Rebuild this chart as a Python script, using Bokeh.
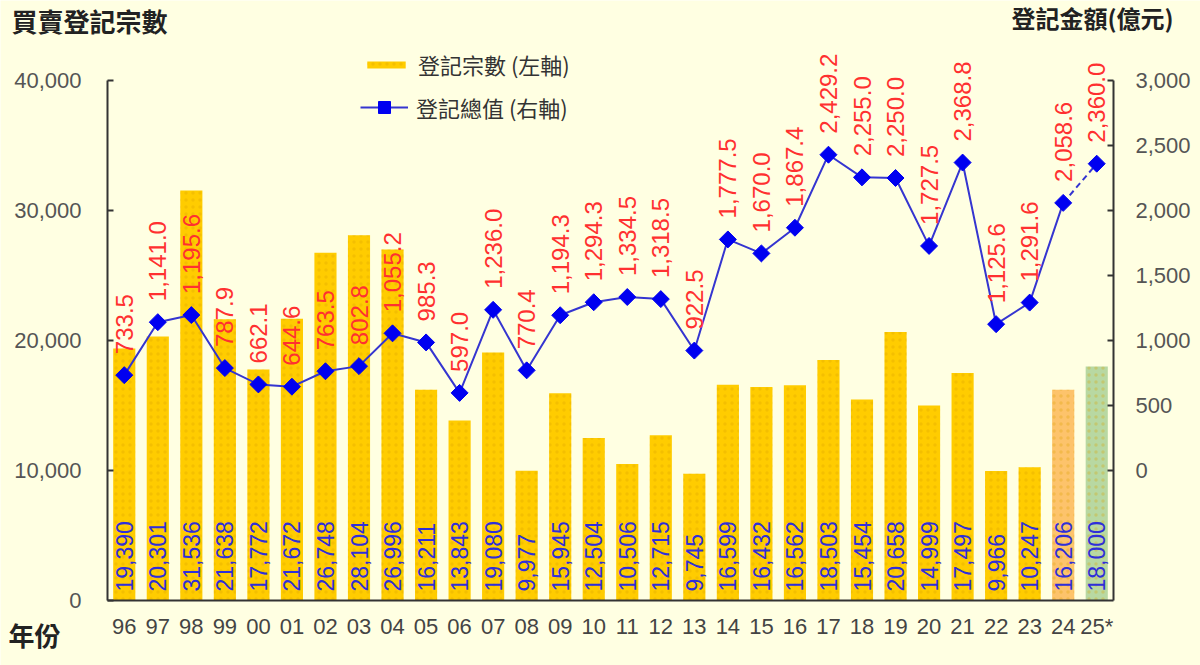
import math

from bokeh.core.properties import value
from bokeh.embed import file_html
from bokeh.models import (ColumnDataSource, FixedTicker, Label, Legend, LegendItem,
                          LinearAxis, NumeralTickFormatter, Range1d)
from bokeh.plotting import figure
from bokeh.resources import INLINE

# ---- data -------------------------------------------------------------
years = ["96", "97", "98", "99", "00", "01", "02", "03", "04", "05",
         "06", "07", "08", "09", "10", "11", "12", "13", "14", "15",
         "16", "17", "18", "19", "20", "21", "22", "23", "24", "25*"]

# 買賣登記宗數 (left axis)
counts = [19390, 20301, 31536, 21638, 17772, 21672, 26748, 28104, 26996, 16211,
          13843, 19080, 9977, 15945, 12504, 10506, 12715, 9745, 16599, 16432,
          16562, 18503, 15454, 20658, 14999, 17497, 9966, 10247, 16206, 18000]

# 登記總值, 億元 (right axis)
amounts = [733.5, 1141.0, 1195.6, 787.9, 662.1, 644.6, 763.5, 802.8, 1055.2, 985.3,
           597.0, 1236.0, 770.4, 1194.3, 1294.3, 1334.5, 1318.5, 922.5, 1777.5, 1670.0,
           1867.4, 2429.2, 2255.0, 2250.0, 1727.5, 2368.8, 1125.6, 1291.6, 2058.6, 2360.0]

left_ticks = [0, 10000, 20000, 30000, 40000]
right_ticks = [0, 500, 1000, 1500, 2000, 2500, 3000]

# ---- styling ----------------------------------------------------------
BG = "#FFFFE2"
GOLD = "#FFCC00"
PROVISIONAL = "#FDC36B"   # 2024
ESTIMATE = "#B8D8A2"      # 2025 estimate
LINE_BLUE = "#3535D0"
MARK_BLUE = "#0000F0"
LABEL_BLUE = "#2F2FD8"
LABEL_RED = "#FF3030"
AXIS = "#333333"
FONT = "Liberation Sans"
CJK = "Noto Sans CJK TC"

W, H = 1200, 665
AX_L, AX_R = 107, 1113        # pixel columns of the two value axes
AX_B, AX_T = 600, 80          # pixel rows of y=0 and y=40,000

# The frame fills the whole page; axes sit at fixed locations inside it so
# that titles and labels outside the axis box are not clipped.
n = len(years)
idx = list(range(n))
cat_w = (AX_R - AX_L) / n
x_start = -0.5 - AX_L / cat_w
x_end = (n - 0.5) + (W - AX_R) / cat_w
unit_px = (AX_B - AX_T) / 40000
y_start = -(H - AX_B) / unit_px
y_end = 40000 + AX_T / unit_px

def to_right(v):
    # right scale: 0 億元 at 10,000 宗, 3,000 億元 at 40,000 宗
    return (v - 10000) / 10

bar_colors = [GOLD] * (n - 2) + [PROVISIONAL, ESTIMATE]

src = ColumnDataSource(dict(
    x=idx,
    count=counts,
    amount=amounts,
    color=bar_colors,
    count_txt=[f"{c:,}" for c in counts],
    amount_txt=[f"{a:,.1f}" for a in amounts],
))
solid_src = ColumnDataSource(dict(x=idx[:-1], amount=amounts[:-1]))
dash_src = ColumnDataSource(dict(x=idx[-2:], amount=amounts[-2:]))

p = figure(
    width=W, height=H,
    x_range=Range1d(x_start, x_end),
    y_range=Range1d(y_start, y_end),
    output_backend="svg", toolbar_location=None,
    min_border=0,
    background_fill_color=BG, border_fill_color=BG,
)
p.outline_line_color = None
p.grid.visible = False
p.extra_y_ranges = {"right": Range1d(to_right(y_start), to_right(y_end))}

# ---- axes -------------------------------------------------------------
def style_axis(ax, tick_size):
    ax.axis_line_color = AXIS
    ax.axis_line_width = 2
    ax.major_tick_line_color = AXIS
    ax.major_tick_line_width = 2
    ax.minor_tick_line_color = None
    ax.major_label_text_font = FONT
    ax.major_label_text_font_size = tick_size
    ax.major_label_text_color = "#555555"

ly = p.yaxis[0]
ly.ticker = FixedTicker(ticks=left_ticks)
ly.formatter = NumeralTickFormatter(format="0,0")
ly.bounds = (0, 40000)
ly.fixed_location = -0.5
style_axis(ly, "22px")
ly.major_tick_in = 6
ly.major_tick_out = 0
ly.major_label_standoff = 26

ry = LinearAxis(y_range_name="right", ticker=FixedTicker(ticks=right_ticks),
                formatter=NumeralTickFormatter(format="0,0"),
                bounds=(-1000, 3000), fixed_location=n - 0.5)
style_axis(ry, "22px")
ry.major_tick_in = 6
ry.major_tick_out = 0
ry.major_label_standoff = 22
p.add_layout(ry, "right")

bx = p.xaxis[0]
bx.ticker = FixedTicker(ticks=idx)
bx.major_label_overrides = {i: y for i, y in zip(idx, years)}
bx.bounds = (-0.5, n - 0.5)
bx.fixed_location = 0
style_axis(bx, "22px")
bx.major_tick_line_color = None
bx.major_tick_in = 0
bx.major_tick_out = 0
bx.major_label_standoff = 13
bx.major_label_text_color = "#444444"

# ---- bars -------------------------------------------------------------
bars = p.vbar(x="x", top="count", width=0.66, source=src,
              fill_color="color", line_color=None,
              hatch_pattern=".", hatch_color="#D9A300", hatch_alpha=0.3,
              hatch_scale=7, hatch_weight=1)

p.text(x="x", y=0, text="count_txt", source=src, angle=math.pi / 2,
       text_align="left", text_baseline="middle", y_offset=-9,
       text_font=value(FONT), text_font_size="23px", text_color=LABEL_BLUE)

# ---- line -------------------------------------------------------------
solid = p.line(x="x", y="amount", source=solid_src, y_range_name="right",
               line_color=LINE_BLUE, line_width=2)
p.line(x="x", y="amount", source=dash_src, y_range_name="right",
       line_color=LINE_BLUE, line_width=2, line_dash="6 4")
marks = p.scatter(x="x", y="amount", source=src, y_range_name="right",
                  marker="square", size=12, angle=math.pi / 4,
                  fill_color=MARK_BLUE, line_color=MARK_BLUE)

p.text(x="x", y="amount", text="amount_txt", source=src, y_range_name="right",
       angle=math.pi / 2, text_align="left", text_baseline="middle", y_offset=-21,
       text_font=value(FONT), text_font_size="24px", text_color=LABEL_RED)

# ---- legends ----------------------------------------------------------
def make_legend(items, loc, gh):
    lg = Legend(items=items, location=loc, orientation="vertical",
                glyph_width=48, glyph_height=gh, label_height=gh,
                label_standoff=8, padding=0, margin=0, spacing=0,
                border_line_color=None, background_fill_alpha=0,
                label_text_font=CJK, label_text_font_size="22px",
                label_text_color="#333333")
    p.add_layout(lg, "center")

make_legend([LegendItem(label="登記宗數 (左軸)", renderers=[bars])], (362, 585), 9)
make_legend([LegendItem(label="登記總值 (右軸)", renderers=[solid, marks])], (360, 542), 30)

# ---- titles -----------------------------------------------------------
for txt, x, y, size in [("買賣登記宗數", 11, H - 20, "26px"),
                        ("登記金額(億元)", 1011, H - 17, "24px"),
                        ("年份", 8, H - 634, "26px")]:
    p.add_layout(Label(x=x, y=y, x_units="screen", y_units="screen", text=txt,
                       text_font=CJK, text_font_size=size, text_font_style="bold",
                       text_color="#222222", text_baseline="middle", text_align="left"))

open("out.html", "w").write(file_html(p, INLINE))
